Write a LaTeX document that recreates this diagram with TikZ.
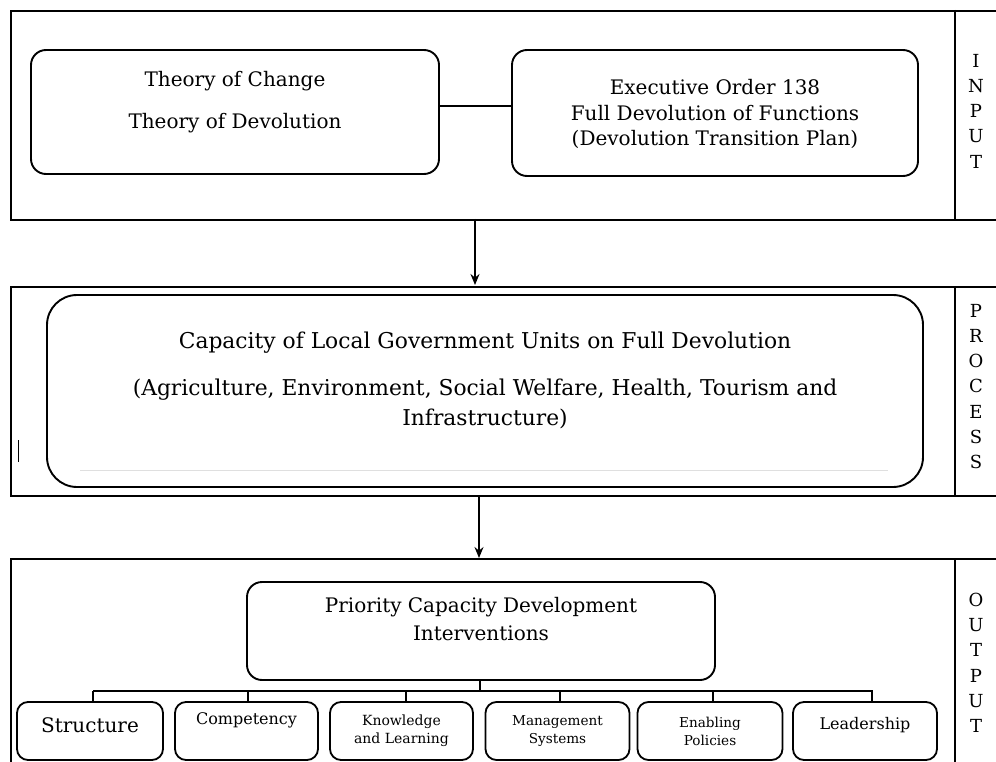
\documentclass[tikz,border=0pt]{standalone}
\usepackage{fontspec}
\setmainfont{DejaVu Serif}
\usetikzlibrary{arrows.meta}
\tikzset{
  frame/.style={draw, line width=2.2pt, anchor=north west, minimum width=1000pt, inner sep=0pt},
  divider/.style={draw, line width=1.1pt},
  rbox/.style={draw, line width=1.9pt, rounded corners=15pt, inner sep=0pt},
  bbox/.style={draw, line width=1.8pt, rounded corners=11pt, inner sep=0pt, minimum height=58pt},
  txt/.style={inner sep=0pt, font=\fontsize{20}{24}\selectfont},
  side/.style={inner sep=0pt, font=\fontsize{18}{25.2}\selectfont, align=center, anchor=north},
  conn/.style={draw, line width=1.5pt},
  arr/.style={draw, line width=1.6pt, -{Stealth[length=11pt,width=9pt]}}
}
\begin{document}
\begin{tikzpicture}[x=1pt,y=-1pt]
\useasboundingbox (0,0) rectangle (996,762);
\clip (0,0) rectangle (996,762);
% INPUT
\node[frame, minimum height=209pt] (inframe) at (10,10) {};
\draw[divider] (955,10) -- (955,219);
\node[side] (inlab) at (976,54) {I\\N\\P\\U\\T};
\node[rbox, minimum width=408pt, minimum height=124pt] (toc) at (235,112) {};
\node[txt] (toc1) at (235,81) {Theory of Change};
\node[txt] (toc2) at (235,123) {Theory of Devolution};
\node[rbox, minimum width=406pt, minimum height=126pt] (eo) at (715,113) {};
\node[txt] (eo1) at (715,87) {Executive Order 138};
\node[txt] (eo2) at (715,113) {Full Devolution of Functions};
\node[txt] (eo3) at (715,139) {(Devolution Transition Plan)};
\draw[conn] (toc.east |- 0,106) -- (eo.west |- 0,106);
% PROCESS
\node[frame, minimum height=209pt] (prframe) at (10,286) {};
\draw[divider] (955,286) -- (955,495);
\node[side] (prlab) at (976,304) {P\\R\\O\\C\\E\\S\\S};
\node[rbox, rounded corners=30pt, minimum width=876pt, minimum height=192pt] (cap) at (485,391) {};
\node[txt, font=\fontsize{21.8}{24}\selectfont] (cap1) at (485,343) {Capacity of Local Government Units on Full Devolution};
\node[txt, font=\fontsize{21.8}{24}\selectfont] (cap2) at (485,390) {(Agriculture, Environment, Social Welfare, Health, Tourism and};
\node[txt, font=\fontsize{21.8}{24}\selectfont] (cap3) at (485,419) {Infrastructure)};
\draw[gray!25, line width=0.8pt] (80,470) -- (888,470);
\draw[line width=0.8pt] (18,440) -- (18,462);
% arrows between frames
\draw[arr] (475,219) -- (475,285);
\draw[arr] (479,495) -- (479,558);
% OUTPUT
\node[frame, minimum height=260pt] (outframe) at (10,558) {};
\draw[divider] (955,558) -- (955,770);
\node[side] (outlab) at (976,593) {O\\U\\T\\P\\U\\T};
\node[rbox, minimum width=468pt, minimum height=98pt] (pri) at (481,631) {};
\node[txt] (pri1) at (481,607) {Priority Capacity Development};
\node[txt] (pri2) at (481,633) {Interventions};
\node[bbox, minimum width=146pt] (b1) at (90,731) {};
\node[txt, font=\fontsize{20}{22}\selectfont] at (90,725) {Structure};
\node[bbox, minimum width=143pt] (b2) at (246.5,731) {};
\node[txt, font=\fontsize{16}{18}\selectfont] at (246.5,720) {Competency};
\node[bbox, minimum width=143pt] (b3) at (401.5,731) {};
\node[txt, font=\fontsize{14}{18}\selectfont, align=center] at (401.5,731) {Knowledge\\and Learning};
\node[bbox, minimum width=144pt] (b4) at (557.5,731) {};
\node[txt, font=\fontsize{13.6}{18}\selectfont, align=center] at (557.5,731) {Management\\Systems};
\node[bbox, minimum width=145pt] (b5) at (710,731) {};
\node[txt, font=\fontsize{13.6}{18}\selectfont, align=center] at (710,731) {Enabling\\Policies};
\node[bbox, minimum width=144pt] (b6) at (865,731) {};
\node[txt, font=\fontsize{16}{18}\selectfont] at (865,725) {Leadership};
% tree
\coordinate (hub) at (480,691);
\draw[conn, line width=1.3pt] (pri.south -| hub) -- (hub);
\draw[conn, line width=1.3pt] (93,691) -- (873,691);
\foreach \n/\x in {b1/93, b2/248, b3/406, b4/560, b5/713, b6/872} {
  \draw[conn, line width=1.3pt] (\x,691) -- (\x,0 |- \n.north);
}
\end{tikzpicture}
\end{document}
